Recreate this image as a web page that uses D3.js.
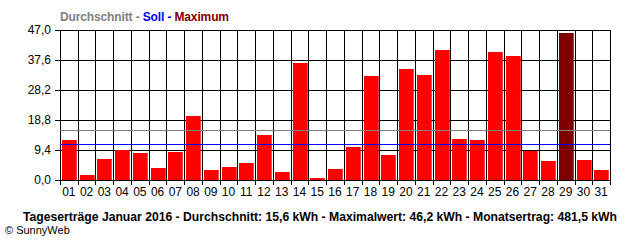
<!DOCTYPE html>
<html>
<head>
<meta charset="utf-8">
<script src="https://cdn.jsdelivr.net/npm/d3@7"></script>
<style>
  body { margin: 0; background: #fff; }
  svg { display: block; }
  text { font-family: "Liberation Sans", Arial, sans-serif; }
</style>
</head>
<body>
<svg id="chart" width="640" height="240"></svg>
<script>
// Tageserträge Januar 2016 (kWh)
var days = ["01","02","03","04","05","06","07","08","09","10","11","12","13","14","15","16",
            "17","18","19","20","21","22","23","24","25","26","27","28","29","30","31"];
var values = [12.6, 1.7, 6.6, 9.4, 8.5, 3.8, 8.8, 20.1, 3.1, 4.1, 5.3, 14.1, 2.5, 36.7, 0.6, 3.4,
              10.3, 32.6, 7.8, 34.8, 32.9, 40.7, 12.8, 12.5, 40.1, 38.9, 9.1, 6.0, 46.2, 6.3, 3.1];
var yTicks = [0, 9.4, 18.8, 28.2, 37.6, 47.0];
var average = 15.6;
var target = 11.2;   // Soll
var legend = [
  { label: "Durchschnitt", color: "#808080" },
  { label: " - ", color: "#808080" },
  { label: "Soll", color: "#0000ff" },
  { label: " - ", color: "#0000ff" },
  { label: "Maximum", color: "#800000" }
];
var footer = "Tageserträge Januar 2016 - Durchschnitt: 15,6 kWh - Maximalwert: 46,2 kWh - Monatsertrag: 481,5 kWh";

var svg = d3.select("#chart");
var pLeft = 60, pRight = 610, pTop = 30, pBottom = 180;

var x = d3.scaleBand().domain(days).range([pLeft, pRight]).padding(0);
var y = d3.scaleLinear().domain([0, 47]).range([pBottom, pTop]);
var fmt = function(v) { return d3.format(".1f")(v).replace(".", ","); };
var maxVal = d3.max(values);

// horizontal grid + left ticks
svg.append("g").selectAll("line")
  .data(yTicks)
  .enter().append("line")
  .attr("x1", pLeft - 5).attr("x2", pRight)
  .attr("y1", d => Math.round(y(d)) + 0.5)
  .attr("y2", d => Math.round(y(d)) + 0.5)
  .attr("stroke", "#000").attr("stroke-width", 1);

// vertical grid + bottom ticks
var edges = days.map(d => x(d)).concat([pRight]);
svg.append("g").selectAll("line")
  .data(edges)
  .enter().append("line")
  .attr("x1", d => Math.round(d) + 0.5).attr("x2", d => Math.round(d) + 0.5)
  .attr("y1", pTop).attr("y2", pBottom + 5)
  .attr("stroke", "#000").attr("stroke-width", 1);

// bars
svg.append("g").selectAll("rect")
  .data(values)
  .enter().append("rect")
  .attr("x", (d, i) => Math.round(x(days[i])) + 2)
  .attr("width", x.bandwidth() - 3)
  .attr("y", d => Math.round(y(d)))
  .attr("height", d => Math.round(y(0)) - Math.round(y(d)))
  .attr("fill", d => d === maxVal ? "#7f0000" : "#ff0000");

// average and target lines
svg.append("line")
  .attr("x1", pLeft).attr("x2", pRight)
  .attr("y1", Math.round(y(average)) + 0.5).attr("y2", Math.round(y(average)) + 0.5)
  .attr("stroke", "#808080").attr("stroke-width", 1.2);
svg.append("line")
  .attr("x1", pLeft).attr("x2", pRight)
  .attr("y1", Math.round(y(target)) + 0.5).attr("y2", Math.round(y(target)) + 0.5)
  .attr("stroke", "#0000ff").attr("stroke-width", 1.2);

// y labels
svg.append("g").selectAll("text")
  .data(yTicks)
  .enter().append("text")
  .attr("x", pLeft - 9).attr("y", d => y(d) + 4)
  .attr("text-anchor", "end")
  .attr("font-size", 12)
  .text(fmt);

// x labels
svg.append("g").selectAll("text")
  .data(days)
  .enter().append("text")
  .attr("x", d => x(d) + x.bandwidth() / 2)
  .attr("y", 196)
  .attr("text-anchor", "middle")
  .attr("font-size", 12)
  .text(d => d);

// legend
var lg = svg.append("text")
  .attr("x", pLeft).attr("y", 21)
  .attr("font-size", 12).attr("font-weight", "bold")
  .attr("textLength", 169).attr("lengthAdjust", "spacing")
  .attr("xml:space", "preserve");
lg.selectAll("tspan")
  .data(legend)
  .enter().append("tspan")
  .attr("fill", d => d.color)
  .text(d => d.label);

// footer
svg.append("text")
  .attr("x", 23).attr("y", 221)
  .attr("font-size", 12.5).attr("font-weight", "bold")
  .attr("textLength", 594).attr("lengthAdjust", "spacingAndGlyphs")
  .text(footer);
svg.append("text")
  .attr("x", 5).attr("y", 234)
  .attr("font-size", 11)
  .text("© SunnyWeb");
</script>
</body>
</html>
